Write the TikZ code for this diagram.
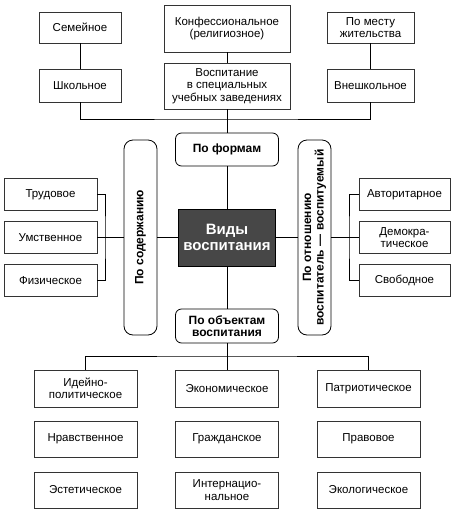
\documentclass[tikz,border=0pt]{standalone}
\usepackage{fontspec}
\setmainfont{Liberation Sans}
\usepackage{tikz}
\usetikzlibrary{positioning}
\tikzstyle{box} = [draw=black!80,line width=0.8pt,align=center,inner sep=2pt,font=\fontsize{11.5}{12.5}\selectfont]
\tikzstyle{kind} = [draw,line width=0.8pt,rounded corners=6pt,align=center,inner sep=2pt,font=\fontsize{12}{12.5}\selectfont\bfseries]
\tikzstyle{main} = [fill=black!72,draw=black,line width=0.8pt,text=white,align=center,minimum width=97pt,minimum height=57pt,font=\fontsize{15}{16.5}\selectfont\bfseries]
\tikzstyle{link} = [line width=0.8pt]

\begin{document}
\begin{tikzpicture}[x=1pt,y=-1pt]
\useasboundingbox (0,0) rectangle (457,515);

%Nodes
\node [main] (vidy) at (227,237.5) {Виды\\воспитания};
\node [kind,minimum width=103pt,minimum height=33pt] (forms) at (227,149.5) {По формам};
\node [kind,minimum width=103pt,minimum height=34pt] (objects) at (227,326) {По объектам\\воспитания};
\node [kind,rotate=90,minimum width=195pt,minimum height=33pt,rounded corners=9pt] (content) at (140.5,237.5) {По содержанию};
\node [kind,rotate=90,minimum width=195pt,minimum height=33pt,rounded corners=9pt] (relation) at (314.5,237.5) {По отношению\\воспитатель — воспитуемый};

\node [box,minimum width=82pt,minimum height=31pt] (family) at (80,27.5) {Семейное};
\node [box,minimum width=82pt,minimum height=33pt] (school) at (80,85.5) {Школьное};
\node [box,minimum width=126pt,minimum height=47pt] (konf) at (227,28.5) {Конфессиональное\\(религиозное)};
\node [box,minimum width=126pt,minimum height=46pt] (spec) at (227,86) {Воспитание\\в специальных\\учебных заведениях};
\node [box,minimum width=87pt,minimum height=31pt] (home) at (370.5,27.5) {По месту\\жительства};
\node [box,minimum width=87pt,minimum height=33pt] (outschool) at (370.5,85.5) {Внешкольное};

\node [box,minimum width=93pt,minimum height=32pt] (umstv) at (50.5,237.5) {Умственное};
\node [box,minimum width=93pt,minimum height=32pt,above=10pt of umstv] (trud) {Трудовое};
\node [box,minimum width=93pt,minimum height=32pt,below=10pt of umstv] (fiz) {Физическое};
\node [box,minimum width=91pt,minimum height=32pt] (demo) at (404.5,237.5) {Демокра-\\тическое};
\node [box,minimum width=91pt,minimum height=32pt,above=10pt of demo] (avtor) {Авторитарное};
\node [box,minimum width=91pt,minimum height=32pt,below=10pt of demo] (svob) {Свободное};

\node [box,minimum width=103pt,minimum height=37pt] (idea) at (85.5,388.5) {Идейно-\\политическое};
\node [box,minimum width=103pt,minimum height=37pt] (econ) at (227,388.5) {Экономическое};
\node [box,minimum width=103pt,minimum height=37pt] (patr) at (368.5,388.5) {Патриотическое};
\node [box,minimum width=103pt,minimum height=36pt] (moral) at (85.5,439) {Нравственное};
\node [box,minimum width=103pt,minimum height=36pt] (civil) at (227,439) {Гражданское};
\node [box,minimum width=103pt,minimum height=36pt] (law) at (368.5,439) {Правовое};
\node [box,minimum width=103pt,minimum height=36pt] (aesth) at (85.5,490) {Эстетическое};
\node [box,minimum width=103pt,minimum height=36pt] (inter) at (227,490) {Интернацио-\\нальное};
\node [box,minimum width=103pt,minimum height=36pt] (eco) at (368.5,490) {Экологическое};

\coordinate (topbus) at (227,119);
\coordinate (lbr) at (105,237.5);
\coordinate (rbr) at (349,237.5);
\coordinate (botbus) at (227,356);

%Lines
\draw [link] (family) -- (school);
\draw [link] (konf) -- (spec);
\draw [link] (home) -- (outschool);
\draw [link] (school.south) |- (topbus) -| (outschool.south);
\draw [link] (spec) -- (forms);
\draw [link] (forms) -- (vidy);
\draw [link] (vidy) -- (objects);
\draw [link] (content) -- (vidy);
\draw [link] (vidy) -- (relation);
\draw [link] (trud.east) -| (lbr) |- (fiz.east);
\draw [link] (umstv) -- (content);
\draw [link] (avtor.west) -| (rbr) |- (svob.west);
\draw [link] (relation) -- (demo);
\draw [link] (idea.north) |- (botbus) -| (patr.north);
\draw [link] (objects) -- (econ);

\end{tikzpicture}
\end{document}
